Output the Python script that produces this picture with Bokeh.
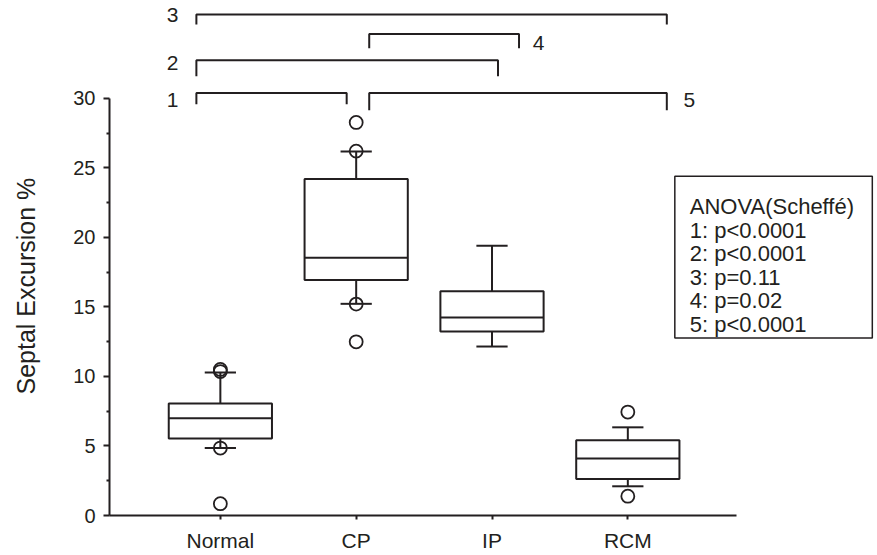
import math
from bokeh.plotting import figure
from bokeh.models import Range1d, FixedTicker, Title, ColumnDataSource
from bokeh.core.properties import value
from bokeh.embed import file_html
from bokeh.resources import INLINE

# ---- data ----
groups = ["Normal", "CP", "IP", "RCM"]
positions = [1, 2, 3, 4]
q1 = [5.53, 16.94, 13.23, 2.63]
median = [7.0, 18.54, 14.24, 4.09]
q3 = [8.06, 24.19, 16.13, 5.41]
whisker_low = [4.85, 15.22, 12.15, 2.1]
whisker_high = [10.29, 26.18, 19.4, 6.34]
outlier_group = [1, 1, 1, 1, 2, 2, 2, 2, 4, 4]
outlier_value = [10.35, 10.5, 4.85, 0.85, 28.26, 26.2, 15.2, 12.49, 7.44, 1.39]

y_ticks = [0, 5, 10, 15, 20, 25, 30]

# comparison brackets: (label, left group, right group)
comp_labels = ["1", "2", "3", "4", "5"]
comp_pairs = [("Normal", "CP"), ("Normal", "IP"), ("Normal", "RCM"), ("CP", "IP"), ("CP", "RCM")]

legend_title = "ANOVA(Scheffé)"
legend_lines = ["1: p<0.0001", "2: p<0.0001", "3: p=0.11", "4: p=0.02", "5: p<0.0001"]

# ---- layout helpers ----
FONT = "Liberation Sans"
INK = "#231f20"
BOX_HALF = 0.38
CAP_HALF = 0.115
X0 = 0.1838
X1 = X0 + (876 - 108) / 136

p = figure(width=876, height=554, output_backend="svg", toolbar_location=None,
           x_range=Range1d(X0, X1), y_range=Range1d(0, 37.03),
           min_border_left=108, min_border_right=0, min_border_top=0, min_border_bottom=38)
p.outline_line_color = None
p.grid.visible = False
p.background_fill_color = "white"

# axes
xa = p.xaxis[0]
xa.ticker = FixedTicker(ticks=positions)
xa.major_label_overrides = {pos: g for pos, g in zip(positions, groups)}
xa.bounds = (X0, 4.801)
xa.major_tick_out = 4
xa.major_tick_in = 0
xa.minor_tick_line_color = None
xa.axis_line_width = 2
xa.major_tick_line_width = 2
xa.axis_line_color = INK
xa.major_tick_line_color = INK
xa.major_label_text_font = FONT
xa.major_label_text_font_size = "21px"
xa.major_label_text_color = INK
xa.major_label_standoff = 9

ya = p.yaxis[0]
ya.ticker = FixedTicker(ticks=y_ticks, minor_ticks=[v + 2.5 for v in y_ticks[:-1]])
ya.bounds = (0, 30)
ya.major_tick_out = 6
ya.major_tick_in = 0
ya.minor_tick_out = 3
ya.minor_tick_in = 0
ya.axis_line_width = 2
ya.major_tick_line_width = 2
ya.minor_tick_line_width = 2
ya.axis_line_color = INK
ya.major_tick_line_color = INK
ya.minor_tick_line_color = INK
ya.major_label_text_font = FONT
ya.major_label_text_font_size = "20px"
ya.major_label_text_color = INK
ya.major_label_standoff = 8
# invisible spacer label widening the axis panel
ya.axis_label = " "
ya.axis_label_text_font_size = "10px"
ya.axis_label_standoff = 7

ytitle = Title(text="Septal Excursion %", align="left", offset=121, standoff=19,
               text_font=FONT, text_font_size="25px", text_color=INK, text_font_style="normal")
p.add_layout(ytitle, "left")

# ---- boxes ----
src = ColumnDataSource(dict(
    x=positions, left=[v - BOX_HALF for v in positions], right=[v + BOX_HALF for v in positions],
    q1=q1, q3=q3, med=median, lo=whisker_low, hi=whisker_high,
    cl=[v - CAP_HALF for v in positions], cr=[v + CAP_HALF for v in positions]))

p.segment(x0="x", y0="q3", x1="x", y1="hi", source=src, line_color=INK, line_width=2)
p.segment(x0="x", y0="q1", x1="x", y1="lo", source=src, line_color=INK, line_width=2)
p.segment(x0="cl", y0="hi", x1="cr", y1="hi", source=src, line_color=INK, line_width=2)
p.segment(x0="cl", y0="lo", x1="cr", y1="lo", source=src, line_color=INK, line_width=2)
p.quad(left="left", right="right", bottom="q1", top="q3", source=src,
       fill_color="white", line_color=INK, line_width=2)
p.segment(x0="left", y0="med", x1="right", y1="med", source=src, line_color=INK, line_width=2)

p.scatter(x=outlier_group, y=outlier_value, marker="circle", size=13,
          fill_color=None, line_color=INK, line_width=1.8)

# ---- comparison brackets ----
gx = {g: v for g, v in zip(groups, positions)}
# per comparison (layout): bar height, drop end, x offsets from groups, label anchor
br_y = [30.38, 32.73, 36.03, 34.62, 30.38]
br_drop = [29.57, 31.58, 35.31, 33.59, 29.14]
br_xl_off = [-0.1765, -0.1765, -0.1765, 0.096, 0.096]
br_xr_off = [-0.07, 0.044, 0.287, 0.199, 0.287]
lab_x = [0.691, 0.691, 0.691, 3.30, 4.41]
lab_y = [29.89, 32.55, 35.99, 33.95, 29.86]
lab_align = ["right", "right", "right", "left", "left"]
for (a, b), yb, yd, ol, orr in zip(comp_pairs, br_y, br_drop, br_xl_off, br_xr_off):
    xl = gx[a] + ol
    xr = gx[b] + orr
    p.line(x=[xl, xl, xr, xr], y=[yd, yb, yb, yd], line_color=INK, line_width=2)
for lab, lx, ly, al in zip(comp_labels, lab_x, lab_y, lab_align):
    p.text(x=[lx], y=[ly], text=[lab], text_font=value(FONT), text_font_size="21px",
           text_color=INK, text_align=al, text_baseline="middle")

# ---- legend box ----
p.quad(left=[4.346], right=[5.80], bottom=[12.77], top=[24.40],
       fill_color="white", line_color=INK, line_width=1.5)
all_lines = [legend_title] + legend_lines
ys = [22.20 - i * 1.694 for i in range(len(all_lines))]
p.text(x=[4.456] * len(all_lines), y=ys, text=all_lines, text_font=value(FONT),
       text_font_size="22px", text_color=INK, text_align="left", text_baseline="alphabetic")

open("out.html", "w").write(file_html(p, INLINE))
